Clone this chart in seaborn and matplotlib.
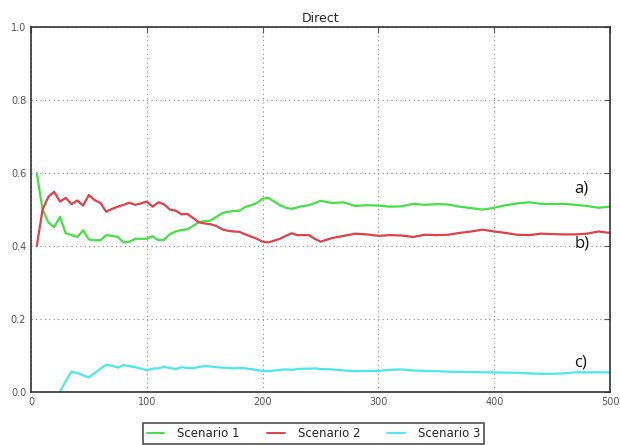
import numpy as np
import pandas as pd
import matplotlib
matplotlib.use("Agg")
import matplotlib.pyplot as plt
import seaborn as sns

# Sample positions (shared by all scenarios)
steps = list(range(5, 255, 5)) + list(range(260, 510, 10))

scenario_1 = [
    0.600, 0.500, 0.465, 0.452, 0.480, 0.435, 0.430, 0.425, 0.443, 0.418,
    0.416, 0.416, 0.430, 0.428, 0.425, 0.410, 0.412, 0.420, 0.420, 0.420,
    0.427, 0.416, 0.417, 0.433, 0.440, 0.444, 0.446, 0.455, 0.466, 0.468,
    0.470, 0.480, 0.490, 0.494, 0.496, 0.497, 0.507, 0.512, 0.518, 0.530,
    0.532, 0.522, 0.512, 0.505, 0.502, 0.506, 0.510, 0.512, 0.518, 0.524,
    0.518, 0.520, 0.510, 0.512, 0.511, 0.508, 0.509, 0.516, 0.513, 0.515,
    0.514, 0.508, 0.504, 0.500, 0.505, 0.512, 0.517, 0.520, 0.516, 0.515,
    0.516, 0.513, 0.510, 0.505, 0.508,
]

scenario_2 = [
    0.400, 0.500, 0.535, 0.549, 0.522, 0.532, 0.515, 0.525, 0.511, 0.540,
    0.526, 0.518, 0.494, 0.502, 0.508, 0.513, 0.519, 0.513, 0.517, 0.522,
    0.508, 0.520, 0.514, 0.500, 0.497, 0.487, 0.488, 0.477, 0.465, 0.462,
    0.460, 0.455, 0.446, 0.442, 0.440, 0.439, 0.432, 0.426, 0.420, 0.412,
    0.410, 0.415, 0.420, 0.428, 0.435, 0.430, 0.430, 0.430, 0.420, 0.412,
    0.422, 0.428, 0.434, 0.432, 0.428, 0.430, 0.429, 0.425, 0.431, 0.430,
    0.431, 0.436, 0.440, 0.445, 0.440, 0.436, 0.431, 0.430, 0.434, 0.433,
    0.432, 0.432, 0.434, 0.440, 0.436,
]

scenario_3 = [
    np.nan, np.nan, np.nan, np.nan, 0.000, 0.030, 0.056, 0.052, 0.046, 0.040,
    0.052, 0.064, 0.075, 0.072, 0.067, 0.074, 0.071, 0.068, 0.064, 0.060,
    0.064, 0.065, 0.069, 0.066, 0.063, 0.068, 0.066, 0.065, 0.069, 0.071,
    0.070, 0.068, 0.067, 0.066, 0.065, 0.066, 0.065, 0.063, 0.060, 0.058,
    0.057, 0.059, 0.061, 0.062, 0.061, 0.063, 0.064, 0.064, 0.065, 0.063,
    0.062, 0.059, 0.057, 0.058, 0.058, 0.061, 0.062, 0.059, 0.058, 0.057,
    0.056, 0.055, 0.055, 0.054, 0.054, 0.053, 0.053, 0.051, 0.050, 0.050,
    0.051, 0.054, 0.054, 0.054, 0.054,
]

series_names = ["Scenario 1", "Scenario 2", "Scenario 3"]
series_colors = ["#44e044", "#e0404a", "#4ae8e8"]
end_labels = ["a)", "b)", "c)"]
end_label_y = [0.559, 0.408, 0.082]

df = pd.concat([
    pd.DataFrame({"step": steps, "value": vals, "scenario": name})
    for name, vals in zip(series_names, [scenario_1, scenario_2, scenario_3])
]).dropna()

sns.set_style("white")
plt.rcParams["font.family"] = ["DejaVu Sans"]

fig = plt.figure(figsize=(6.2, 4.45), dpi=100)
ax = fig.add_axes([0.05, 0.119, 0.934, 0.82])

sns.lineplot(
    data=df, x="step", y="value", hue="scenario",
    palette=dict(zip(series_names, series_colors)),
    linewidth=1.6, ax=ax, legend=True,
)

ax.set_xlim(0, 500)
ax.set_ylim(0, 1.0)
ax.set_xticks([0, 100, 200, 300, 400, 500])
ax.set_yticks([0.0, 0.2, 0.4, 0.6, 0.8, 1.0])
ax.set_yticklabels(["0.0", "0.2", "0.4", "0.6", "0.8", "1.0"])
ax.set_xlabel("")
ax.set_ylabel("")
ax.grid(True, linestyle=(0, (1, 3)), color="#888888", linewidth=0.8)
ax.tick_params(axis="both", direction="in", length=4, width=0.8,
               colors="#555555", labelsize=7, top=True, right=True,
               labelcolor="#555555")
for spine in ax.spines.values():
    spine.set_color("#333333")
    spine.set_linewidth(1.2)

ax.set_title("Direct", fontsize=9, pad=4)

for lab, yv in zip(end_labels, end_label_y):
    ax.text(469, yv, lab, fontsize=12, family="Open Sans",
            ha="left", va="center", color="#111111")

leg = ax.legend(
    loc="upper center", bbox_to_anchor=(0.488, -0.07), ncol=3,
    frameon=True, fancybox=False, fontsize=8.5, handlelength=1.5,
    columnspacing=2.3, borderpad=0.3, handletextpad=1.1,
)
leg.get_frame().set_edgecolor("#222222")
leg.get_frame().set_linewidth(1.2)
for line in leg.get_lines():
    line.set_linewidth(1.4)

fig.savefig("out.png", dpi=100)
